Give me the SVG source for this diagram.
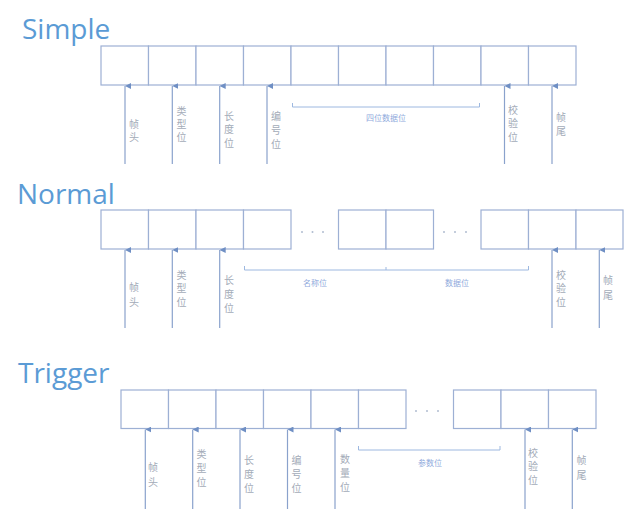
<svg xmlns="http://www.w3.org/2000/svg" width="624" height="509" viewBox="0 0 624 509">
<style>
.title{font-family:"Open Sans","Liberation Sans",sans-serif;font-size:28px;fill:#5b9bd5}
.box{fill:#fff;stroke:#9db0d4;stroke-width:1.2}
.arr{stroke:#8aa2cc;stroke-width:1.2;fill:none}
.br{stroke:#9db8e0;stroke-width:1;fill:none}
.v{font-family:"Noto Sans CJK SC",sans-serif;font-size:10px;fill:#a3abb8;writing-mode:vertical-rl;text-anchor:start}
.h{font-family:"Noto Sans CJK SC",sans-serif;font-size:8px;fill:#8faadc;text-anchor:middle;dominant-baseline:central}
.dot{fill:#b0bcd0}
</style>
<defs>
<marker id="ah" viewBox="0 0 6 6" refX="3" refY="0" markerWidth="6" markerHeight="6" markerUnits="userSpaceOnUse" orient="auto-start-reverse">
<path d="M0,6 L3,0 L6,6 Z" fill="#6f8fc4"/>
</marker>
</defs>
<rect width="624" height="509" fill="#fff"/>

<g id="simple">
<text class="title" x="22" y="39">Simple</text>
<g id="simple-boxes">
<rect class="box" x="101" y="46" width="47.5" height="39"/>
<rect class="box" x="148.5" y="46" width="47.5" height="39"/>
<rect class="box" x="196" y="46" width="47.5" height="39"/>
<rect class="box" x="243.5" y="46" width="47.5" height="39"/>
<rect class="box" x="291" y="46" width="47.5" height="39"/>
<rect class="box" x="338.5" y="46" width="47.5" height="39"/>
<rect class="box" x="386" y="46" width="47.5" height="39"/>
<rect class="box" x="433.5" y="46" width="47.5" height="39"/>
<rect class="box" x="481" y="46" width="47.5" height="39"/>
<rect class="box" x="528.5" y="46" width="47.5" height="39"/>
</g>
<g id="simple-labels">
<text class="v" x="134" y="119" letter-spacing="3">帧头</text>
<text class="v" x="181.5" y="106" letter-spacing="3">类型位</text>
<text class="v" x="229" y="111" letter-spacing="3.5">长度位</text>
<text class="v" x="276" y="111" letter-spacing="4">编号位</text>
<text class="v" x="513" y="105" letter-spacing="3.5">校验位</text>
<text class="v" x="561" y="112" letter-spacing="4">帧尾</text>
<text class="h" x="386" y="117">四位数据位</text>
</g>
</g>

<g id="normal">
<text class="title" x="17" y="204">Normal</text>
<g id="normal-boxes">
<rect class="box" x="101" y="210" width="47.5" height="39"/>
<rect class="box" x="148.5" y="210" width="47.5" height="39"/>
<rect class="box" x="196" y="210" width="47.5" height="39"/>
<rect class="box" x="243.5" y="210" width="47.5" height="39"/>
<rect class="box" x="338.5" y="210" width="47.5" height="39"/>
<rect class="box" x="386" y="210" width="47.5" height="39"/>
<rect class="box" x="481" y="210" width="47.5" height="39"/>
<rect class="box" x="528.5" y="210" width="47.5" height="39"/>
<rect class="box" x="576" y="210" width="47" height="39"/>
<circle class="dot" cx="302" cy="232" r="1"/><circle class="dot" cx="312.5" cy="232" r="1"/><circle class="dot" cx="323" cy="232" r="1"/>
<circle class="dot" cx="444" cy="232" r="1"/><circle class="dot" cx="455" cy="232" r="1"/><circle class="dot" cx="466" cy="232" r="1"/>
</g>
<g id="normal-labels">
<text class="v" x="134" y="282" letter-spacing="5">帧头</text>
<text class="v" x="181.5" y="270" letter-spacing="3.5">类型位</text>
<text class="v" x="229" y="275" letter-spacing="4">长度位</text>
<text class="v" x="561" y="270" letter-spacing="3.5">校验位</text>
<text class="v" x="608" y="275" letter-spacing="5">帧尾</text>
<text class="h" x="315" y="282">名称位</text>
<text class="h" x="457" y="282">数据位</text>
</g>
</g>

<g id="trigger">
<text class="title" x="18" y="383">Trigger</text>
<g id="trigger-boxes">
<rect class="box" x="121" y="390" width="47.5" height="38.5"/>
<rect class="box" x="168.5" y="390" width="47.5" height="38.5"/>
<rect class="box" x="216" y="390" width="47.5" height="38.5"/>
<rect class="box" x="263.5" y="390" width="47.5" height="38.5"/>
<rect class="box" x="311" y="390" width="47.5" height="38.5"/>
<rect class="box" x="358.5" y="390" width="47.5" height="38.5"/>
<rect class="box" x="453.5" y="390" width="47.5" height="38.5"/>
<rect class="box" x="501" y="390" width="47.5" height="38.5"/>
<rect class="box" x="548.5" y="390" width="47.5" height="38.5"/>
<circle class="dot" cx="416" cy="411" r="1"/><circle class="dot" cx="427" cy="411" r="1"/><circle class="dot" cx="438" cy="411" r="1"/>
</g>
<g id="trigger-labels">
<text class="v" x="153" y="462" letter-spacing="5">帧头</text>
<text class="v" x="201.5" y="449" letter-spacing="4">类型位</text>
<text class="v" x="249" y="455" letter-spacing="4">长度位</text>
<text class="v" x="296.5" y="455" letter-spacing="4">编号位</text>
<text class="v" x="345" y="454" letter-spacing="4">数量位</text>
<text class="v" x="533" y="448" letter-spacing="3.5">校验位</text>
<text class="v" x="581.5" y="455" letter-spacing="5">帧尾</text>
<text class="h" x="430" y="462">参数位</text>
</g>
</g>

<g id="connectors">
<line class="arr" x1="125" y1="164" x2="125" y2="86" marker-end="url(#ah)"/>
<line class="arr" x1="172.3" y1="164" x2="172.3" y2="86" marker-end="url(#ah)"/>
<line class="arr" x1="219.7" y1="164" x2="219.7" y2="86" marker-end="url(#ah)"/>
<line class="arr" x1="267" y1="164" x2="267" y2="86" marker-end="url(#ah)"/>
<line class="arr" x1="504.5" y1="164" x2="504.5" y2="86" marker-end="url(#ah)"/>
<line class="arr" x1="552" y1="164" x2="552" y2="86" marker-end="url(#ah)"/>
<path class="br" d="M292.5,103 V107 H479.5 V103"/>

<line class="arr" x1="125" y1="328" x2="125" y2="250" marker-end="url(#ah)"/>
<line class="arr" x1="172.3" y1="328" x2="172.3" y2="250" marker-end="url(#ah)"/>
<line class="arr" x1="219.7" y1="328" x2="219.7" y2="250" marker-end="url(#ah)"/>
<line class="arr" x1="552" y1="328" x2="552" y2="250" marker-end="url(#ah)"/>
<line class="arr" x1="599.3" y1="328" x2="599.3" y2="250" marker-end="url(#ah)"/>
<path class="br" d="M244.5,266 V270 H528.5 V266 M386,270 V267"/>

<line class="arr" x1="145.3" y1="509" x2="145.3" y2="429.5" marker-end="url(#ah)"/>
<line class="arr" x1="192.7" y1="509" x2="192.7" y2="429.5" marker-end="url(#ah)"/>
<line class="arr" x1="240" y1="509" x2="240" y2="429.5" marker-end="url(#ah)"/>
<line class="arr" x1="287.5" y1="509" x2="287.5" y2="429.5" marker-end="url(#ah)"/>
<line class="arr" x1="335" y1="509" x2="335" y2="429.5" marker-end="url(#ah)"/>
<line class="arr" x1="525" y1="509" x2="525" y2="429.5" marker-end="url(#ah)"/>
<line class="arr" x1="572.3" y1="509" x2="572.3" y2="429.5" marker-end="url(#ah)"/>
<path class="br" d="M358.5,446 V450 H500 V446"/>
</g>
</svg>
